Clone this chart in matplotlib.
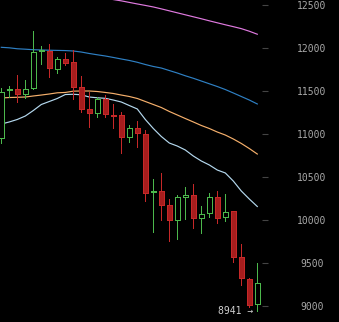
import numpy as np
import matplotlib
matplotlib.use('Agg')
import matplotlib.pyplot as plt

# daily OHLC (oldest -> newest)
opens = [10950, 11506, 11520, 11462, 11531, 11960, 11965, 11756, 11869, 11837,
         11543, 11287, 11241, 11403, 11221, 11221, 10962, 11066, 10997, 10322,
         10337, 10174, 10000, 10273, 10291, 10020, 10078, 10264, 10031, 10105,
         9566, 9310, 9020]
highs = [11538, 11562, 11686, 11628, 12198, 12027, 12047, 11892, 11938, 11971,
         11674, 11488, 11430, 11453, 11349, 11252, 11105, 11151, 11047, 10477,
         10550, 10244, 10291, 10380, 10419, 10163, 10310, 10337, 10302, 10110,
         9721, 9322, 9497]
lows = [10895, 11434, 11369, 11422, 11525, 11810, 11666, 11713, 11802, 11407,
        11259, 11078, 11194, 11201, 11073, 10783, 10910, 10852, 10224, 9864,
        10000, 9759, 9779, 10008, 9910, 9845, 10038, 9969, 9992, 9515,
        9244, 8985, 8941]
closes = [11492, 11526, 11462, 11520, 11950, 11975, 11764, 11869, 11829, 11550,
          11287, 11241, 11403, 11229, 11210, 10962, 11066, 11008, 10317, 10336,
          10178, 10000, 10264, 10285, 10020, 10070, 10264, 10027, 10097, 9573,
          9322, 9012, 9264]

# moving averages (None = above the visible range)
ma_pink = [None] * 14 + [12563, 12548, 12530, 12512, 12495, 12477, 12455, 12432,
                         12409, 12386, 12363, 12340, 12316, 12293, 12270, 12248,
                         12225, 12195, 12160]
ma_blue = [12008, 12002, 11991, 11986, 11980, 11977, 11974, 11972, 11970, 11965,
           11953, 11936, 11921, 11907, 11890, 11872, 11855, 11834, 11808, 11785,
           11767, 11738, 11709, 11677, 11648, 11616, 11584, 11552, 11517, 11477,
           11436, 11395, 11349]
ma_orange = [11419, 11424, 11427, 11430, 11442, 11453, 11465, 11479, 11483, 11498,
             11500, 11500, 11494, 11483, 11471, 11453, 11436, 11413, 11378, 11343,
             11308, 11262, 11221, 11180, 11140, 11099, 11064, 11023, 10988, 10942,
             10890, 10831, 10767]
ma_light = [11116, 11140, 11169, 11209, 11273, 11343, 11378, 11413, 11459, 11462,
            11456, 11430, 11421, 11415, 11395, 11372, 11331, 11291, 11169, 11064,
            10971, 10895, 10860, 10814, 10744, 10686, 10640, 10581, 10547, 10453,
            10337, 10244, 10157]

yticks = [9000, 9500, 10000, 10500, 11000, 11500, 12000, 12500]
last_low_label = '8941 \u2192'

UP = '#4cb84c'
DOWN_EDGE = '#c62828'
DOWN_FACE = '#a61d1d'
LW = 0.7   # one pixel at 100 dpi

fig = plt.figure(figsize=(3.39, 3.22), dpi=100, facecolor='black')
ax = fig.add_axes([0, 0, 262 / 339, 1])
ax.set_facecolor('black')

x = np.arange(len(opens))
o = np.array(opens, float)
c = np.array(closes, float)
up = c >= o

# moving averages
ma_p = np.array([np.nan if v is None else v for v in ma_pink], float)
for vals, col in [(ma_p, '#e07ae0'), (ma_blue, '#2f80c4'),
                  (ma_orange, '#f6b06c'), (ma_light, '#b4d8ee')]:
    ax.plot(x, vals, color=col, lw=0.85, zorder=1)

# candles, drawn crisp like the original
for i in range(len(x)):
    col = UP if up[i] else DOWN_EDGE
    ax.vlines(x[i], lows[i], highs[i], color=col, lw=LW,
              antialiased=False, zorder=2)
    bot = min(o[i], c[i])
    h = max(abs(c[i] - o[i]), 12)
    face = 'black' if up[i] else DOWN_FACE
    ax.bar(x[i], h, bottom=bot, width=0.6, facecolor=face, edgecolor=col,
           linewidth=LW, antialiased=False, zorder=3)

ax.text(31.55, lows[-1], last_low_label, color='#d0d0d0', fontsize=7,
        family='DejaVu Sans Mono', ha='right', va='center', zorder=4)

ax.set_xlim(-0.1625, 32.5875)
ax.set_ylim(8814, 12558)
ax.set_xticks([])
ax.yaxis.tick_right()
ax.set_yticks(yticks)
ax.set_yticklabels([str(v) for v in yticks])
ax.tick_params(axis='y', colors='#444444', length=4.3, width=0.8,
               pad=31.7, labelcolor='#a8a8a8', labelsize=7)
for lab in ax.get_yticklabels():
    lab.set_ha('center')
    lab.set_family('DejaVu Sans Mono')
for s in ax.spines.values():
    s.set_visible(False)

fig.savefig('out.png', dpi=100, facecolor='black')
